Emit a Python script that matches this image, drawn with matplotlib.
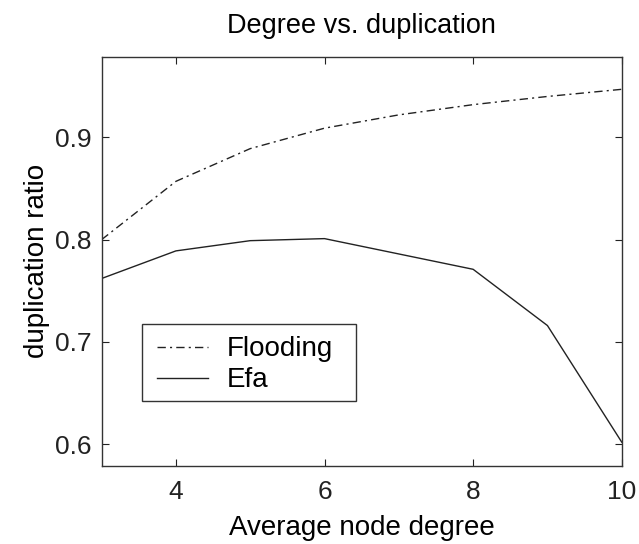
import matplotlib.pyplot as plt
from matplotlib.patches import Rectangle

# node degree on x
degree = [3, 4, 5, 6, 7, 8, 9, 10]
flooding = [0.800, 0.857, 0.889, 0.909, 0.922, 0.932, 0.940, 0.947]
efa = [0.762, 0.789, 0.799, 0.801, 0.786, 0.771, 0.716, 0.602]

plt.rcParams['font.family'] = ['Liberation Sans', 'DejaVu Sans']

fig = plt.figure(figsize=(6.39, 5.44), dpi=100)
ax = fig.add_axes([0.159, 0.144, 0.814, 0.752])

ax.plot(degree, flooding, color='#222222', linewidth=1.0,
        linestyle=(0, (6, 3, 1.5, 3)), label='Flooding')
ax.plot(degree, efa, color='#222222', linewidth=1.0, linestyle='-', label='Efa')

ax.set_xlim(3, 10)
ax.set_ylim(0.579, 0.979)
ax.set_xticks([4, 6, 8, 10])
ax.set_yticks([0.6, 0.7, 0.8, 0.9])
ax.set_yticklabels(['0.6', '0.7', '0.8', '0.9'])

ax.tick_params(direction='in', length=5, width=0.8, top=True, right=True,
               labelsize=19, colors='#222222')
ax.tick_params(axis='x', pad=10)
ax.tick_params(axis='y', pad=7)
for s in ax.spines.values():
    s.set_linewidth(1.0)
    s.set_color('#333333')

ax.set_title('Degree vs. duplication', fontsize=19.5, pad=17)
ax.set_xlabel('Average node degree', fontsize=20, labelpad=8)
ax.set_ylabel('duplication ratio', fontsize=20, labelpad=4)

# legend box drawn separately (wider side padding than top/bottom)
ax.add_patch(Rectangle((0.0775, 0.158), 0.4115, 0.188, transform=ax.transAxes,
                       facecolor='white', edgecolor='#333333', linewidth=1.0,
                       zorder=4))
leg = ax.legend(loc='upper left', bbox_to_anchor=(0.106, 0.316), fontsize=20,
                frameon=False, borderaxespad=0, handlelength=1.84,
                borderpad=0, labelspacing=0.18, handletextpad=0.68)
leg.set_zorder(5)

fig.savefig('out.png', dpi=100)
